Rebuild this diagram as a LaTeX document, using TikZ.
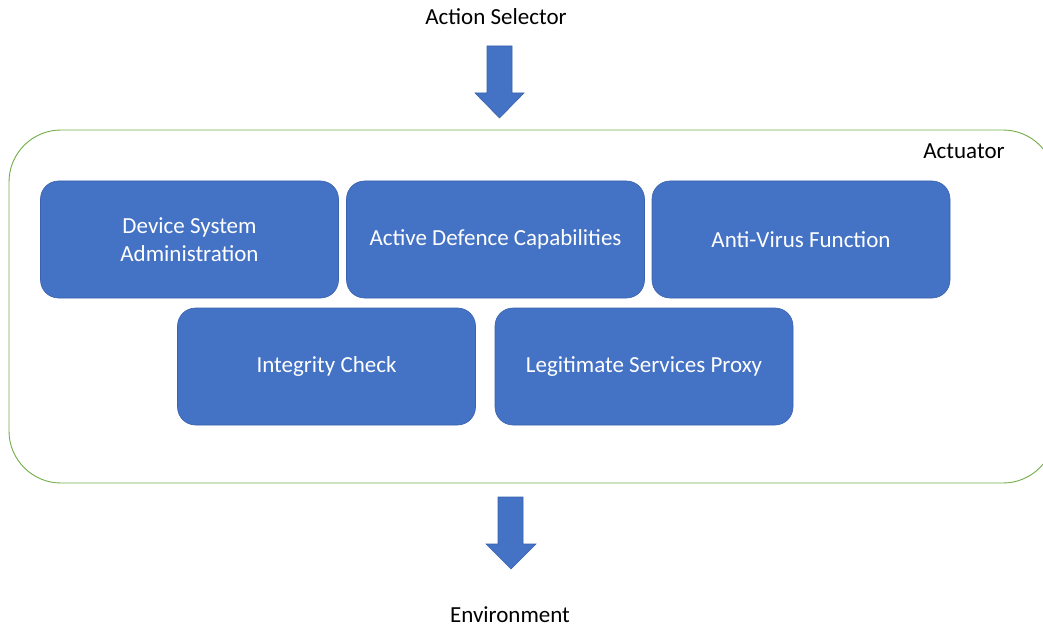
\documentclass[tikz,border=0pt]{standalone}
\usepackage{fontspec}
\setmainfont{Carlito}
\usetikzlibrary{positioning}
\definecolor{offblue}{HTML}{4472C4}
\definecolor{offblueedge}{HTML}{3A62AE}
\definecolor{offgreen}{HTML}{70AD47}
\begin{document}
\begin{tikzpicture}[x=1pt,y=-1pt,
  blk/.style={draw=offblueedge, line width=0.6pt, fill=offblue, rounded corners=18pt,
    minimum width=298pt, minimum height=117pt, text=white, align=center,
    font=\fontsize{23}{28}\selectfont, inner sep=0pt},
  lbl/.style={font=\fontsize{23}{28}\selectfont, text=black, inner sep=0pt},
  barrow/.style={fill=offblue, draw=offblueedge, line width=0.6pt, line join=miter}]
\useasboundingbox (0,0) rectangle (1043,628);
\clip (0,0) rectangle (1043,628);
% container
\draw[offgreen, line width=0.9pt, rounded corners=52pt] (9,130) rectangle (1055,483);
\node[lbl, anchor=center] (act) at (964,151) {Actuator};
% inner blocks
\node[blk] (dsa) at (189.5,239.5) {Device System\\Administration};
\node[blk] (adc) at (495.5,239.5) {Active Defence Capabilities};
\node[blk] (avf) at (801,239.5) {Anti-Virus Function};
\node[blk] (ic)  at (326.5,366.5) {Integrity Check};
\node[blk] (lsp) at (644,366.5) {Legitimate Services Proxy};
% labels
\node[lbl] (sel) at (496,17) {Action Selector};
\node[lbl] (env) at (510,615) {Environment};
% block arrows
\draw[barrow] (487,46) -- (512,46) -- (512,93) -- (524,93) -- (499.5,118) -- (475,93) -- (487,93) -- cycle;
\draw[barrow] (498,497) -- (523,497) -- (523,544) -- (536,544) -- (511,569) -- (486,544) -- (498,544) -- cycle;
\end{tikzpicture}
\end{document}
